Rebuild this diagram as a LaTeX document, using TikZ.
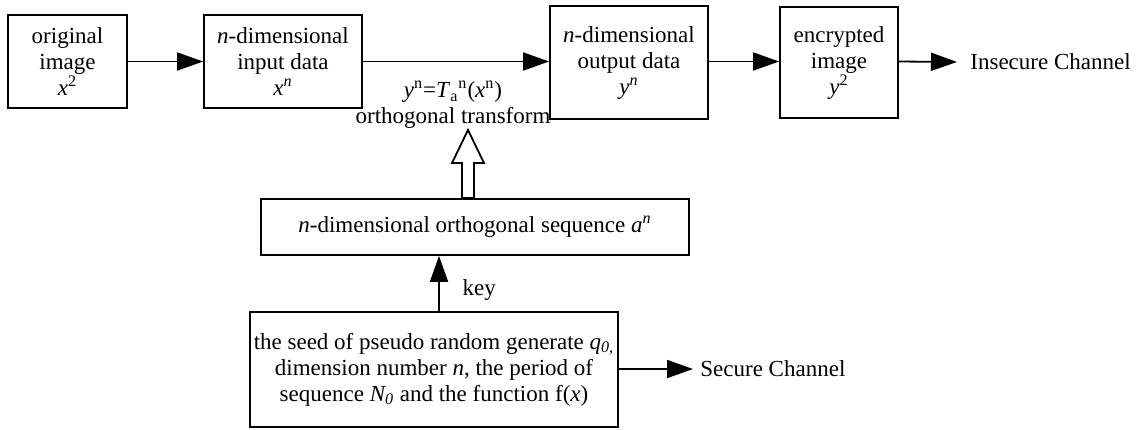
\documentclass[tikz,border=0pt]{standalone}
\usepackage{fontspec}
\setmainfont{Liberation Serif}
\usetikzlibrary{arrows.meta,calc}
\begin{document}
\begin{tikzpicture}[x=0.5pt,y=-0.5pt,font=\fontsize{11.5}{13}\selectfont,
  box/.style={draw,line width=0.9pt,align=center,inner sep=0pt},
  arr/.style={line width=0.9pt,-{Triangle[length=13pt,width=9pt]}}]
\useasboundingbox(0,0)rectangle(1146,429);
\node[box,minimum width=59.5pt,minimum height=46.5pt](orig)at(67.5,61.5){original\\image\\\textit{x}\textsuperscript{2}};
\node[box,minimum width=79pt,minimum height=46.5pt](inp)at(283,61.5){\textit{n}-dimensional\\input data\\\textit{x}\textsuperscript{\textit{n}}};
\node[box,minimum width=79pt,minimum height=56.5pt](outp)at(629,62.5){\textit{n}-dimensional\\output data\\\textit{y}\textsuperscript{\textit{n}}};
\node[box,minimum width=59pt,minimum height=55.5pt](enc)at(839,62.5){encrypted\\image\\\textit{y}\textsuperscript{2}};
\node[anchor=west,inner sep=0pt](insec)at(970,62){Insecure Channel};
\node[align=center,inner sep=0pt](trans)at(453,105){\textit{y}\textsuperscript{n}=\textit{T}\textsubscript{a}\textsuperscript{n}(\textit{x}\textsuperscript{n})\\orthogonal transform};
\node[box,minimum width=214pt,minimum height=28pt](seq)at(475,227){\textit{n}-dimensional orthogonal sequence \textit{a}\textsuperscript{\textit{n}}};
\node[box,minimum width=184pt,minimum height=57.5pt](seed)at(434,369.5){the seed of pseudo random generate \textit{q\textsubscript{0,}}\\dimension number \textit{n}, the period of\\sequence \textit{N\textsubscript{0}} and the function f(\textit{x})};
\node[anchor=west,inner sep=0pt](sec)at(700,369){Secure Channel};
\coordinate(tip)at(468,130);
\coordinate(keyx)at(439,0);
% connectors
\draw[arr](orig)--(inp);
\draw[arr](inp.east|-orig)--(outp.west|-orig);
\draw[arr](outp.east|-orig)--(enc.west|-orig);
\draw[arr](enc.east|-orig)--($(insec.west)+(-13,0)$);
\draw[arr](seed.north-|keyx)--(seq.south-|keyx)node[pos=0.38,right=8pt]{key};
\draw[arr](seed.east|-sec)--($(sec.west)+(-7,0)$);
% hollow arrow
\draw[line width=0.9pt,fill=white](seq.north-|462,0)--(462,163)--(452,163)--(tip)--(484,163)--(474,163)--(seq.north-|474,0)--cycle;
\end{tikzpicture}
\end{document}
